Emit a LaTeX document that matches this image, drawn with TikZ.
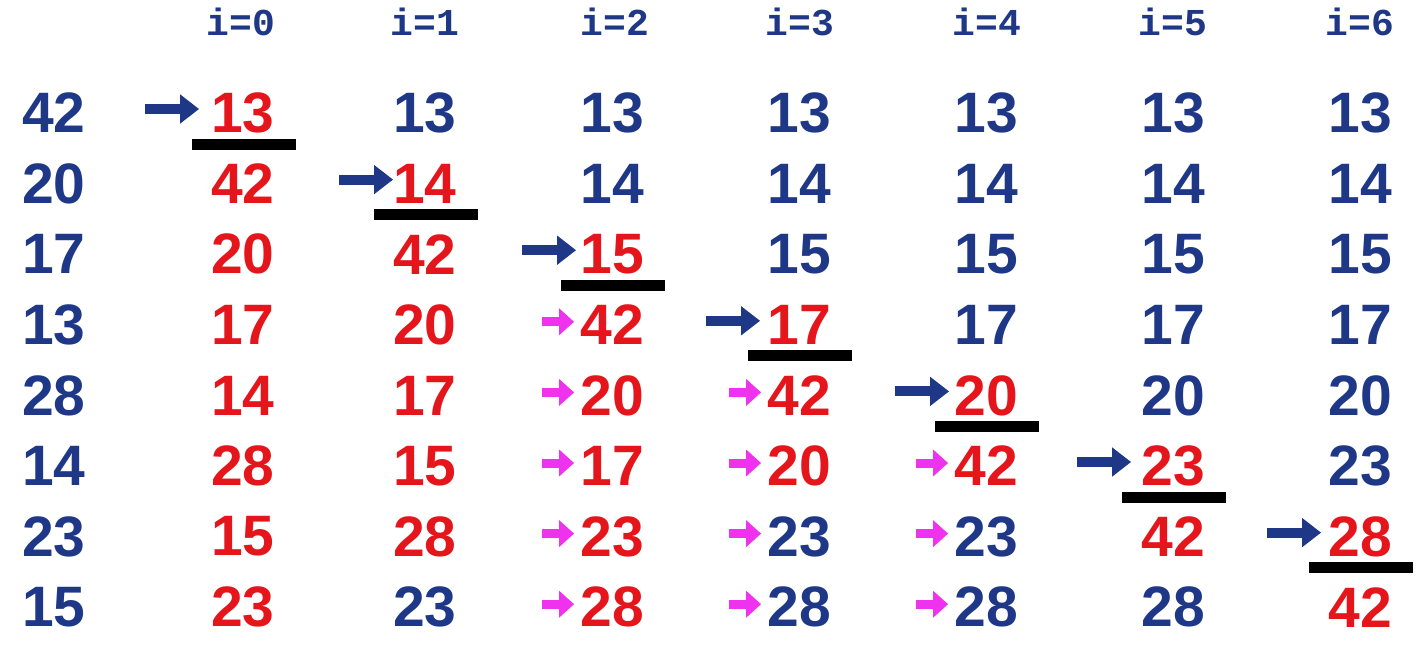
\documentclass[tikz,border=0pt]{standalone}
\usepackage{fontspec}
\setmainfont{Liberation Sans}
\newfontfamily\hdrfont{Liberation Mono}
\usetikzlibrary{arrows.meta,calc}
\definecolor{navy}{RGB}{30,55,135}
\definecolor{hot}{RGB}{228,22,28}
\definecolor{mag}{RGB}{238,50,238}
\tikzset{
  num/.style={font=\fontsize{57}{60}\selectfont\bfseries, inner sep=0pt, anchor=center},
  hdr/.style={font=\hdrfont\fontsize{38}{40}\selectfont\bfseries, text=navy, inner sep=0pt},
  minarrow/.style={draw=navy, line width=10pt, -{Triangle[length=19pt,width=28pt]}},
  shiftarrow/.style={draw=mag, line width=9pt, -{Triangle[length=15pt,width=26pt]}},
  sepbar/.style={draw=black, line width=11pt},
}
\begin{document}
\begin{tikzpicture}[x=1pt,y=-1pt]
\useasboundingbox (0,0) rectangle (1420,649);
% headers
\foreach \k/\x in {0/241,1/425,2/615,3/800,4/987,5/1173,6/1360}
  \node[hdr] (h\k) at (\x,22) {i=\k};
% numbers
\foreach \c/\x/\vals in {
  0/54/{42/navy,20/navy,17/navy,13/navy,28/navy,14/navy,23/navy,15/navy},
  1/243/{13/hot,42/hot,20/hot,17/hot,14/hot,28/hot,15/hot,23/hot},
  2/425/{13/navy,14/hot,42/hot,20/hot,17/hot,15/hot,28/hot,23/navy},
  3/612/{13/navy,14/navy,15/hot,42/hot,20/hot,17/hot,23/hot,28/hot},
  4/799/{13/navy,14/navy,15/navy,17/hot,42/hot,20/hot,23/navy,28/navy},
  5/986/{13/navy,14/navy,15/navy,17/navy,20/hot,42/hot,23/navy,28/navy},
  6/1173/{13/navy,14/navy,15/navy,17/navy,20/navy,23/hot,42/hot,28/navy},
  7/1360/{13/navy,14/navy,15/navy,17/navy,20/navy,23/navy,28/hot,42/hot}}
{
  \foreach \v/\clr [count=\r from 0] in \vals
    \node[num,text=\clr] (n\c-\r) at ({\x},{113+70.6*\r}) {\v};
}
% minimum arrows and separator bars
\foreach \c/\g in {1/12,2/0,3/4,4/7,5/5,6/10,7/7}
{
  \pgfmathtruncatemacro\rr{\c-1}
  \coordinate (mt\c) at ($(n\c-\rr.west)+(-54-\g,-4)$);
  \draw[minarrow, shorten >=\g pt] (mt\c) -- (mt\c -| n\c-\rr.west);
  \draw[sepbar] ($(n\c-\rr.center)+(-51,31)$) -- ($(n\c-\rr.center)+(53,31)$);
}
% shift arrows
\foreach \c/\r in {3/3,3/4,3/5,3/6,3/7,4/4,4/5,4/6,4/7,5/5,5/6,5/7}
{
  \coordinate (st\c-\r) at ($(n\c-\r.west)+(-38,-3)$);
  \draw[shiftarrow, shorten >=6pt] (st\c-\r) -- (st\c-\r -| n\c-\r.west);
}
\end{tikzpicture}
\end{document}
